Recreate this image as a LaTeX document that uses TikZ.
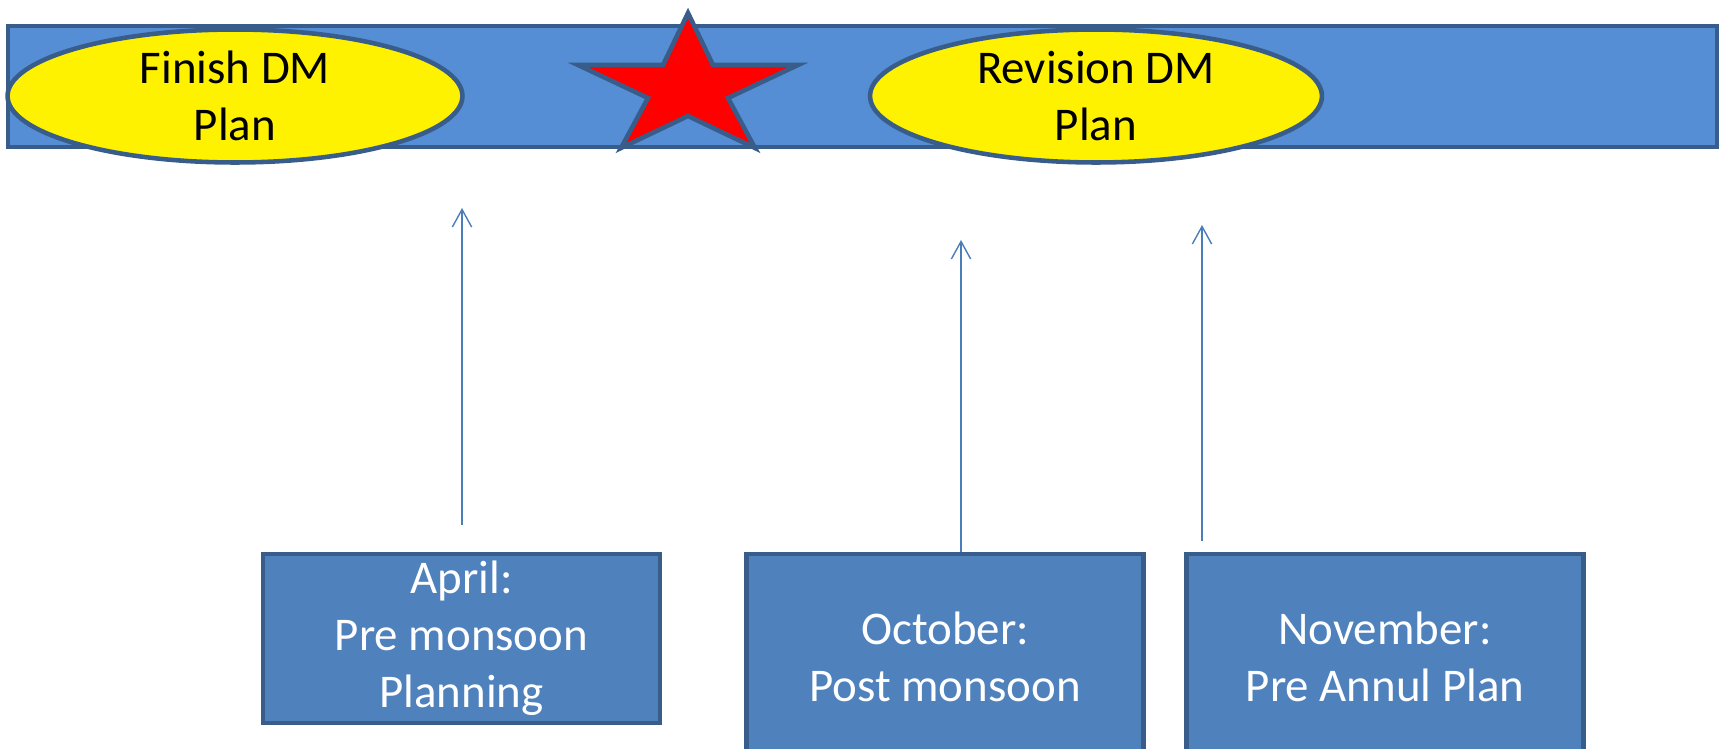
\documentclass[tikz,border=0pt]{standalone}
\usepackage{fontspec}
\setmainfont{Carlito}
\usepackage{tikz}
\usetikzlibrary{shapes.geometric, arrows.meta, positioning}

\definecolor{barblue}{RGB}{85,142,213}
\definecolor{boxblue}{RGB}{79,129,189}
\definecolor{edgeblue}{RGB}{56,93,138}
\definecolor{arrowblue}{RGB}{74,126,187}
\newcommand{\bigtext}{\fontsize{26.7pt}{32.4pt}\selectfont}

\begin{document}
\begin{tikzpicture}[x=0.02cm, y=-0.02cm,
		planoval/.style={ellipse, draw=edgeblue, line width=2.6pt, fill=yellow, minimum width=9.1cm, minimum height=2.66cm, inner sep=0pt, align=center, font=\bigtext},
		monthbox/.style={rectangle, draw=edgeblue, line width=2.6pt, fill=boxblue, text=white, minimum width=7.94cm, inner sep=0pt, align=center, font=\bigtext},
		uparrow/.style={arrowblue, line width=0.8pt, -{Straight Barb[length=10pt, width=11pt]}}]
		\useasboundingbox (0,0) rectangle (1723,749);
		
		% time bar
		\filldraw[fill = barblue, draw = edgeblue, line width = 2.6pt] (8,26) rectangle (1717,147);
		
		\node[planoval] (finish) at (235,96) {Finish DM\\Plan};
		\node[planoval, minimum width = 9.04cm] (revision) at (1096,96) {Revision DM\\Plan};
		
		% star
		\filldraw[fill = red, draw = edgeblue, line width = 2.6pt] (688,13) -- (713,65) -- (798,65) -- (728,98) -- (755,148) -- (688,116) -- (621,148) -- (648,98) -- (578,65) -- (663,65) -- cycle;
		
		% months
		\node[monthbox, minimum height = 3.38cm] (april) at (461.5,638.5) {April:\\Pre monsoon\\Planning};
		\node[monthbox, minimum height = 4.12cm] (october) at (945,657) {October:\\Post monsoon};
		\node[monthbox, minimum height = 4.12cm] (november) at (1385,657) {November:\\Pre Annul Plan};
		
		\coordinate (apr foot) at (462,525);
		\coordinate (apr tip) at (462,208);
		\coordinate (oct tip) at (961,240);
		\coordinate (nov foot) at (1202,541);
		\coordinate (nov tip) at (1202,225);
		
		\draw[uparrow] (apr foot) -- (apr tip);
		\draw[uparrow] (october.north -| oct tip) -- (oct tip);
		\draw[uparrow] (nov foot) -- (nov tip);
\end{tikzpicture}
\end{document}
